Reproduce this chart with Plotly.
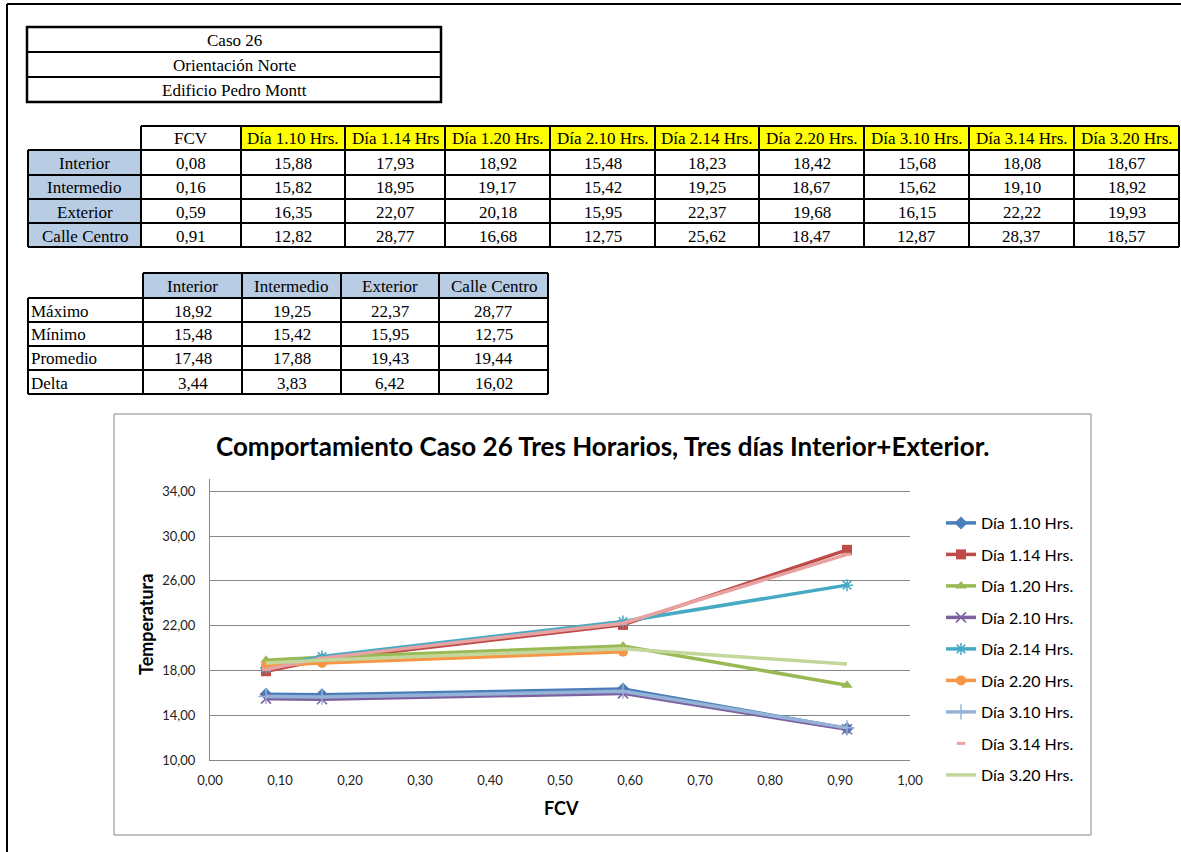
import plotly.graph_objects as go

W, H = 1181, 852

# ---- data ----
zones = ["Interior", "Intermedio", "Exterior", "Calle Centro"]
fcv = [0.08, 0.16, 0.59, 0.91]

series_names = ["Día 1.10 Hrs.", "Día 1.14 Hrs.", "Día 1.20 Hrs.",
                "Día 2.10 Hrs.", "Día 2.14 Hrs.", "Día 2.20 Hrs.",
                "Día 3.10 Hrs.", "Día 3.14 Hrs.", "Día 3.20 Hrs."]
header_names = ["Día 1.10 Hrs.", "Día 1.14 Hrs", "Día 1.20 Hrs.",
                "Día 2.10 Hrs.", "Día 2.14 Hrs.", "Día 2.20 Hrs.",
                "Día 3.10 Hrs.", "Día 3.14 Hrs.", "Día 3.20 Hrs."]

dia_1_10 = [15.88, 15.82, 16.35, 12.82]
dia_1_14 = [17.93, 18.95, 22.07, 28.77]
dia_1_20 = [18.92, 19.17, 20.18, 16.68]
dia_2_10 = [15.48, 15.42, 15.95, 12.75]
dia_2_14 = [18.23, 19.25, 22.37, 25.62]
dia_2_20 = [18.42, 18.67, 19.68, 18.47]
dia_3_10 = [15.68, 15.62, 16.15, 12.87]
dia_3_14 = [18.08, 19.10, 22.22, 28.37]
dia_3_20 = [18.67, 18.92, 19.93, 18.57]
series_values = [dia_1_10, dia_1_14, dia_1_20, dia_2_10, dia_2_14,
                 dia_2_20, dia_3_10, dia_3_14, dia_3_20]

# number of zones each chart series covers (the 2.20 series range stops at Exterior)
chart_points = [4, 4, 4, 4, 4, 3, 4, 4, 4]

stats_labels = ["Máximo", "Mínimo", "Promedio", "Delta"]
stat_interior = [18.92, 15.48, 17.48, 3.44]
stat_intermedio = [19.25, 15.42, 17.88, 3.83]
stat_exterior = [22.37, 15.95, 19.43, 6.42]
stat_calle = [28.77, 12.75, 19.44, 16.02]
stats_cols = [stat_interior, stat_intermedio, stat_exterior, stat_calle]

title_lines = ["Caso 26", "Orientación Norte", "Edificio Pedro Montt"]

y_ticks = [10, 14, 18, 22, 26, 30, 34]
x_ticks = [0.0, 0.1, 0.2, 0.3, 0.4, 0.5, 0.6, 0.7, 0.8, 0.9, 1.0]

# ---- styles ----
colors = ["#4A7EBB", "#BE4B48", "#98B954", "#7D60A0", "#46AAC5",
          "#F79646", "#95B3D7", "#E6A3A2", "#C3D69B"]
symbols = ["diamond", "square", "triangle-up", "x-thin-open", "asterisk-open",
           "circle", "cross-thin-open", "line-ew-open", None]
sizes = [10, 10, 10, 10, 10, 10, 11, 6, 0]

SERIF = "Liberation Serif, Times New Roman, serif"
SANS = "Lato, Calibri, Arial, sans-serif"
BLUE_FILL = "#B8CCE4"
TXT = 17


def fx(x):
    return min(max(x / W, 0.0), 1.0)


def fy(y):
    return min(max(1 - y / H, 0.0), 1.0)


def fmt(v):
    return f"{v:.2f}".replace(".", ",")


shapes = []
annotations = []


def rect(x0, y0, x1, y1, fill=None, line="black", width=2):
    shapes.append(dict(type="rect", xref="paper", yref="paper",
                       x0=fx(x0), x1=fx(x1), y0=fy(y1), y1=fy(y0),
                       fillcolor=fill if fill else "rgba(0,0,0,0)",
                       line=dict(color=line, width=width), layer="below"))


def hline(x0, x1, y, color="black", width=2):
    shapes.append(dict(type="line", xref="paper", yref="paper",
                       x0=fx(x0), x1=fx(x1), y0=fy(y), y1=fy(y),
                       line=dict(color=color, width=width)))


def vline(x, y0, y1, color="black", width=2):
    shapes.append(dict(type="line", xref="paper", yref="paper",
                       x0=fx(x), x1=fx(x), y0=fy(y0), y1=fy(y1),
                       line=dict(color=color, width=width)))


def text(x, y, s, size=TXT, align="center", font=SERIF, bold=False, color="black"):
    annotations.append(dict(xref="paper", yref="paper", x=fx(x), y=fy(y),
                            text=f"<b>{s}</b>" if bold else s, showarrow=False,
                            xanchor=align, yanchor="middle",
                            font=dict(family=font, size=size, color=color)))


# sheet frame
hline(7, W, 4, width=2)
vline(7, 4, H, width=2)

# heading block
hx0, hx1 = 27, 441
hy = [27, 52, 77, 102]
rect(hx0, hy[0], hx1, hy[-1], width=2.5)
for y in hy[1:-1]:
    hline(hx0, hx1, y, width=2)
for i, s in enumerate(title_lines):
    text((hx0 + hx1) / 2, (hy[i] + hy[i + 1]) / 2 + 1, s, size=17)

# main data table
col_x = [28, 141, 241, 345, 445, 550, 655, 759, 864, 969, 1074, 1179]
row_y = [126, 150, 175, 199, 223, 247]
for j in range(2, len(col_x) - 1):
    rect(col_x[j], row_y[0], col_x[j + 1], row_y[1], fill="#FFFF00", width=0)
for i in range(1, len(row_y) - 1):
    rect(col_x[0], row_y[i], col_x[1], row_y[i + 1], fill=BLUE_FILL, width=0)
hline(col_x[1], col_x[-1], row_y[0])
for y in row_y[1:]:
    hline(col_x[0], col_x[-1], y)
vline(col_x[0], row_y[1], row_y[-1])
for x in col_x[1:]:
    vline(x, row_y[0], row_y[-1])

text((col_x[1] + col_x[2]) / 2, (row_y[0] + row_y[1]) / 2 + 1, "FCV")
for j, h in enumerate(header_names):
    text((col_x[j + 2] + col_x[j + 3]) / 2, (row_y[0] + row_y[1]) / 2 + 1, h)
for i, z in enumerate(zones):
    cy = (row_y[i + 1] + row_y[i + 2]) / 2 + 1
    text((col_x[0] + col_x[1]) / 2, cy, z)
    text((col_x[1] + col_x[2]) / 2, cy, fmt(fcv[i]))
    for j, vals in enumerate(series_values):
        text((col_x[j + 2] + col_x[j + 3]) / 2, cy, fmt(vals[i]))

# summary table
sc_x = [28, 143, 242, 341, 439, 548]
sr_y = [273, 298, 322, 346, 370, 394]
for j in range(1, len(sc_x) - 1):
    rect(sc_x[j], sr_y[0], sc_x[j + 1], sr_y[1], fill=BLUE_FILL, width=0)
hline(sc_x[1], sc_x[-1], sr_y[0])
for y in sr_y[1:]:
    hline(sc_x[0], sc_x[-1], y)
vline(sc_x[0], sr_y[1], sr_y[-1])
for x in sc_x[1:]:
    vline(x, sr_y[0], sr_y[-1])
for j, z in enumerate(zones):
    text((sc_x[j + 1] + sc_x[j + 2]) / 2, (sr_y[0] + sr_y[1]) / 2 + 1, z)
for i, lab in enumerate(stats_labels):
    cy = (sr_y[i + 1] + sr_y[i + 2]) / 2 + 1
    text(sc_x[0] + 1, cy, lab, align="left")
    for j, col in enumerate(stats_cols):
        text((sc_x[j + 1] + sc_x[j + 2]) / 2, cy, fmt(col[i]))

# chart frame and titles
rect(114, 414, 1091, 835, fill="white", line="#868686", width=1)
text(603, 446, "Comportamiento Caso 26 Tres Horarios, Tres días Interior+Exterior.",
     size=26, font=SANS, bold=True)
annotations.append(dict(xref="paper", yref="paper", x=fx(146), y=fy(625),
                        text="<b>Temperatura</b>", textangle=-90, showarrow=False,
                        xanchor="center", yanchor="middle",
                        font=dict(family=SANS, size=18, color="black")))
text(561, 808, "FCV", size=18, font=SANS, bold=True)

# ---- series ----
fig = go.Figure()
for k, (name, vals) in enumerate(zip(series_names, series_values)):
    is_dash = name == "Día 3.14 Hrs."
    n = chart_points[k]
    marker = dict(color=colors[k], size=sizes[k])
    if symbols[k] is None:
        mode = "lines"
    else:
        mode = "lines+markers"
        marker["symbol"] = symbols[k]
        if symbols[k].endswith("open"):
            marker["line"] = dict(color=colors[k], width=1.5 if not is_dash else 3)
    fig.add_trace(go.Scatter(x=fcv[:n], y=vals[:n], name=name, mode=mode,
                             line=dict(color=colors[k], width=3.5),
                             marker=marker, legendgroup=name,
                             legendrank=k + 1, showlegend=not is_dash))
    if is_dash:
        # legend entry shows only the dash marker for this series
        fig.add_trace(go.Scatter(x=[None], y=[None], name=name, mode="markers",
                                 marker=marker, legendgroup=name + " key",
                                 legendrank=k + 1, showlegend=True,
                                 hoverinfo="skip"))

px0, px1 = 210, 910
py_top, py_bot = 479, 760

fig.update_layout(
    width=W, height=H, autosize=False,
    margin=dict(l=0, r=0, t=0, b=0, pad=0, autoexpand=False),
    paper_bgcolor="white", plot_bgcolor="rgba(0,0,0,0)",
    separators=",.",
    shapes=shapes, annotations=annotations,
    showlegend=True,
    legend=dict(x=fx(941), y=fy(506), xanchor="left", yanchor="top",
                font=dict(family=SANS, size=16, color="black"),
                bgcolor="rgba(0,0,0,0)", traceorder="grouped",
                tracegroupgap=7.7, itemwidth=30),
    xaxis=dict(domain=[fx(px0), fx(px1)], range=[0, 1], tickvals=x_ticks,
               tickformat=".2f", showgrid=False, zeroline=False, automargin=False,
               showline=True, linecolor="#868686", linewidth=1,
               ticks="", ticklabelstandoff=8,
               tickfont=dict(family=SANS, size=13, color="#222")),
    yaxis=dict(domain=[fy(py_bot), fy(py_top)], range=[10, 35.1], tickvals=y_ticks,
               tickformat=".2f", showgrid=True, gridcolor="#868686", gridwidth=1,
               zeroline=False, showline=True, linecolor="#868686", linewidth=1,
               automargin=False, ticks="", ticklabelstandoff=11,
               tickfont=dict(family=SANS, size=13, color="#222")),
)

fig.write_html("out.html",
               post_script="document.body.style.margin='0px';"
                           "document.body.style.overflow='hidden';")
